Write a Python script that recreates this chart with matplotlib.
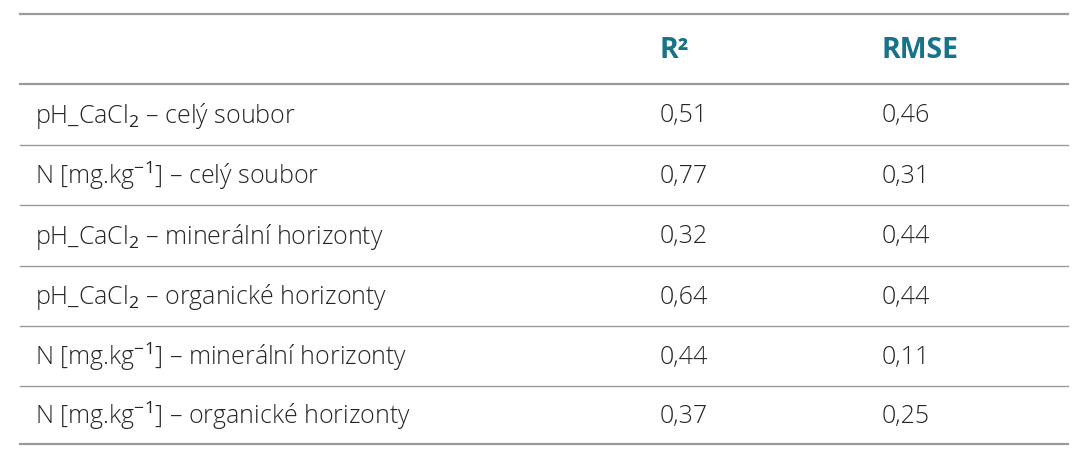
import matplotlib
matplotlib.use("Agg")
import matplotlib.pyplot as plt

plt.rcParams['font.family'] = ['Open Sans', 'DejaVu Sans']
plt.rcParams['mathtext.fontset'] = 'custom'
plt.rcParams['mathtext.rm'] = 'Open Sans'
plt.rcParams['mathtext.it'] = 'Open Sans'

headers = ["", "R²", "RMSE"]
labels = [
    r"pH_CaCl$_2$ – celý soubor",
    r"N [mg.kg$^{-1}$] – celý soubor",
    r"pH_CaCl$_2$ – minerální horizonty",
    r"pH_CaCl$_2$ – organické horizonty",
    r"N [mg.kg$^{-1}$] – minerální horizonty",
    r"N [mg.kg$^{-1}$] – organické horizonty",
]
r2 = ["0,51", "0,77", "0,32", "0,64", "0,44", "0,37"]
rmse = ["0,46", "0,31", "0,44", "0,44", "0,11", "0,25"]

W, H = 1087, 461
fig = plt.figure(figsize=(W / 100, H / 100), dpi=100)
ax = fig.add_axes([0, 0, 1, 1])
ax.set_xlim(0, W)
ax.set_ylim(H, 0)
ax.axis('off')

teal = '#17728a'
gray = '#9a9a9a'
txt = '#262626'
col_x = [35, 660, 882]

lines_y = [14, 84, 145, 205, 266, 326, 386, 444]
for i, y in enumerate(lines_y):
    ax.plot([20, 1068], [y, y], color=gray, lw=1.6 if i in (0, 1, len(lines_y) - 1) else 1.0)

ax.text(col_x[1], 51, headers[1], color=teal, fontsize=20.5, fontweight='bold', va='center')
ax.text(col_x[2], 51, headers[2], color=teal, fontsize=20.5, fontweight='bold', va='center')

for i, (lab, a, b) in enumerate(zip(labels, r2, rmse)):
    y = (lines_y[i + 1] + lines_y[i + 2]) / 2 + 1
    ax.text(col_x[0], y, lab, color=txt, fontsize=18, va='center', fontweight='light')
    ax.text(col_x[1], y, a, color=txt, fontsize=18, va='center', fontweight='light')
    ax.text(col_x[2], y, b, color=txt, fontsize=18, va='center', fontweight='light')

fig.savefig("out.png", dpi=100)
